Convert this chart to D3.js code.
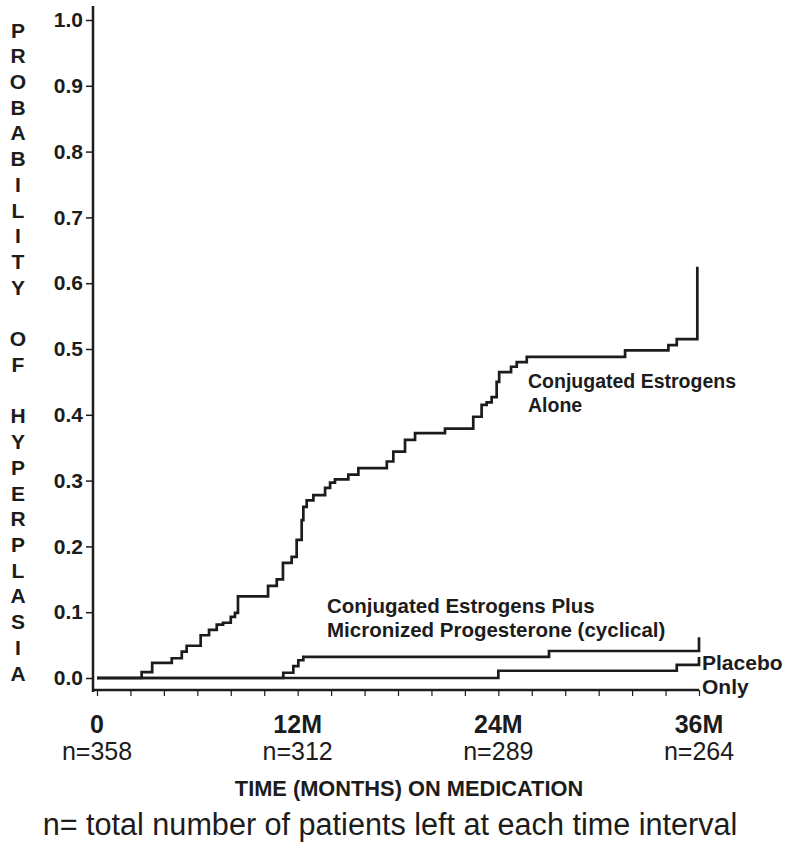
<!DOCTYPE html>
<html>
<head>
<meta charset="utf-8">
<script src="https://cdn.jsdelivr.net/npm/d3@7"></script>
<style>
  body { margin: 0; background: #fff; }
  svg { display: block; }
  .cond { font-family: "Liberation Sans", Arial, sans-serif; }
</style>
</head>
<body>
<svg id="chart"></svg>
<script>
// Kaplan-Meier style step curves
const ceAloneMonths = [0, 2.67, 3.3, 4.47, 5.07, 5.36, 6.2, 6.7, 7.16, 7.54, 8.0, 8.25, 8.43, 10.23, 10.75, 11.12, 11.64, 11.94, 12.24, 12.34, 12.54, 12.94, 13.64, 13.94, 14.23, 15.03, 15.63, 17.33, 17.72, 18.42, 19.02, 20.81, 22.5, 23.0, 23.3, 23.6, 23.9, 24.05, 24.76, 25.1, 25.7, 31.58, 34.17, 34.67, 35.9];
const ceAloneProb = [0, .009, .023, .030, .040, .049, .065, .073, .081, .084, .093, .099, .124, .140, .150, .175, .184, .210, .240, .260, .270, .278, .289, .297, .302, .309, .319, .329, .344, .362, .372, .379, .397, .415, .419, .427, .450, .465, .473, .480, .488, .498, .506, .515, .625];

const ceMpMonths = [0, 11.14, 11.74, 12.04, 12.34, 27.03, 36];
const ceMpProb = [0, .008, .018, .027, .032, .041, .062];

const placeboMonths = [0, 24.0, 34.67, 36];
const placeboProb = [0, .011, .02, .032];

const xTickLabels = ["0", "12M", "24M", "36M"];
const xTickMonths = [0, 12, 24, 36];
const nLeft = ["n=358", "n=312", "n=289", "n=264"];

const yLabel = "PROBABILITY OF HYPERPLASIA";

const width = 785, height = 846;
const svg = d3.select("#chart").attr("width", width).attr("height", height);

const x = d3.scaleLinear().domain([0, 36]).range([97, 699]);
const y = d3.scaleLinear().domain([0, 1]).range([678, 20]);
const axisY = 690;   // x axis sits a little below the zero line
const axisX = 93;
const ink = "#1c1c1c";

// y axis
const yAxis = d3.axisLeft(y)
  .tickValues(d3.range(0, 1.01, 0.1))
  .tickFormat(d3.format(".1f"))
  .tickSize(7)
  .tickPadding(3);
const yAxisG = svg.append("g")
  .attr("transform", `translate(${axisX},0)`)
  .call(yAxis);
yAxisG.select(".domain").remove();
yAxisG.selectAll("line").attr("stroke", ink).attr("stroke-width", 1.5);
yAxisG.selectAll("text")
  .attr("class", "cond")
  .attr("font-size", 21)
  .attr("font-weight", "bold")
  .attr("fill", ink);

svg.append("line")
  .attr("x1", axisX).attr("x2", axisX)
  .attr("y1", 6).attr("y2", axisY + 2)
  .attr("stroke", ink).attr("stroke-width", 2.5);

// x axis
const xAxis = d3.axisBottom(x)
  .tickValues(d3.range(0, 37, 2))
  .tickFormat("")
  .tickSize(6)
  .tickSizeOuter(0);
const xAxisG = svg.append("g")
  .attr("transform", `translate(0,${axisY})`)
  .call(xAxis);
xAxisG.select(".domain").remove();
xAxisG.selectAll("line").attr("stroke", ink).attr("stroke-width", 1.2);

svg.append("line")
  .attr("x1", axisX).attr("x2", x(36))
  .attr("y1", axisY).attr("y2", axisY)
  .attr("stroke", ink).attr("stroke-width", 2.5);

svg.append("g").selectAll("text")
  .data(xTickMonths)
  .join("text")
  .attr("class", "cond")
  .attr("x", d => x(d))
  .attr("y", 733)
  .attr("text-anchor", "middle")
  .attr("font-size", 25)
  .attr("font-weight", "bold")
  .attr("fill", ink)
  .text((d, i) => xTickLabels[i]);

svg.append("g").selectAll("text")
  .data(xTickMonths)
  .join("text")
  .attr("class", "cond")
  .attr("x", d => x(d))
  .attr("y", 760)
  .attr("text-anchor", "middle")
  .attr("font-size", 25)
  .attr("fill", ink)
  .text((d, i) => nLeft[i]);

svg.append("text")
  .attr("class", "cond")
  .attr("x", 409).attr("y", 796)
  .attr("text-anchor", "middle")
  .attr("font-size", 21.8)
  .attr("font-weight", "bold")
  .attr("fill", ink)
  .text("TIME (MONTHS) ON MEDICATION");

svg.append("text")
  .attr("class", "cond")
  .attr("x", 390).attr("y", 835)
  .attr("text-anchor", "middle")
  .attr("font-size", 30.6)
  .attr("fill", ink)
  .text("n= total number of patients left at each time interval");

// stacked y label, one letter per line
svg.append("g").selectAll("text")
  .data(yLabel.split(""))
  .join("text")
  .attr("class", "cond")
  .attr("x", 18)
  .attr("y", (d, i) => 30 + i * 25.72)
  .attr("dy", "0.36em")
  .attr("text-anchor", "middle")
  .attr("font-size", 21)
  .attr("font-weight", "bold")
  .attr("fill", ink)
  .text(d => d);

// curves
const line = d3.line()
  .x(d => x(d[0]))
  .y(d => y(d[1]))
  .curve(d3.curveStepAfter);

const series = [
  d3.zip(placeboMonths, placeboProb),
  d3.zip(ceMpMonths, ceMpProb),
  d3.zip(ceAloneMonths, ceAloneProb)
];

svg.append("g").selectAll("path")
  .data(series)
  .join("path")
  .attr("d", line)
  .attr("fill", "none")
  .attr("stroke", ink)
  .attr("stroke-width", 2.7);

// curve labels
function label(lines, lx, ly, size) {
  const t = svg.append("text")
    .attr("class", "cond")
    .attr("font-size", size)
    .attr("font-weight", "bold")
    .attr("fill", ink);
  lines.forEach((s, i) => {
    t.append("tspan").attr("x", lx).attr("y", ly + i * 23.7).text(s);
  });
}
label(["Conjugated Estrogens", "Alone"], 528, 388, 19.5);
label(["Conjugated Estrogens Plus", "Micronized Progesterone (cyclical)"], 327, 613, 20.5);
label(["Placebo", "Only"], 702, 670, 21);
</script>
</body>
</html>
